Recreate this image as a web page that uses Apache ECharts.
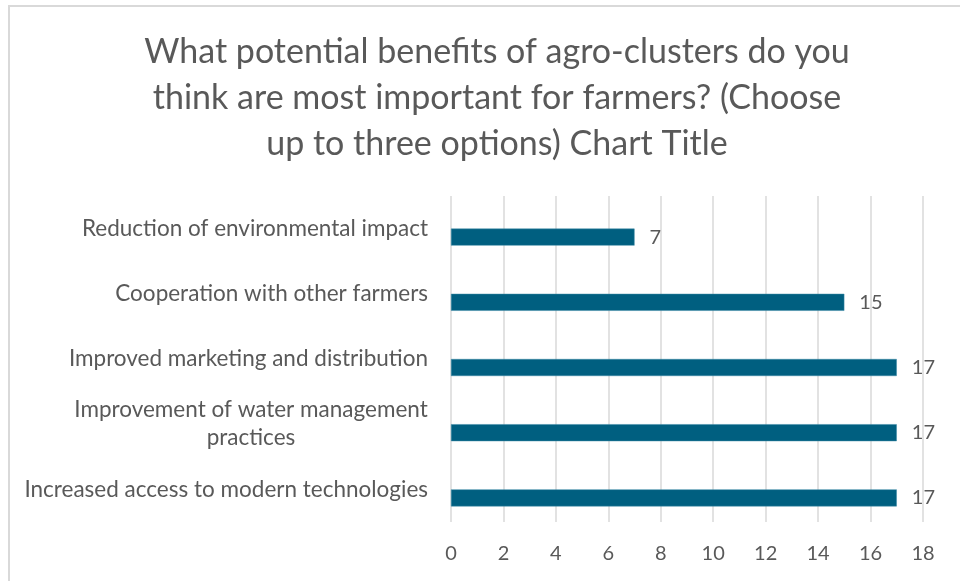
<!DOCTYPE html>
<html>
<head>
<meta charset="utf-8">
<script src="https://cdn.jsdelivr.net/npm/echarts@6/dist/echarts.min.js"></script>
<style>
html,body{margin:0;padding:0;background:#fff;}
#chart{width:960px;height:581px;}
</style>
</head>
<body>
<div id="chart"></div>
<script>
// Data (bottom to top)
var categories = [
  'Increased access to modern technologies',
  'Improvement of water management\npractices',
  'Improved marketing and distribution',
  'Cooperation with other farmers',
  'Reduction of environmental impact'
];
var values = [17, 17, 17, 15, 7];
var xTicks = [0, 2, 4, 6, 8, 10, 12, 14, 16, 18];
var titleText = 'What potential benefits of agro-clusters do you\nthink are most important for farmers? (Choose\nup to three options) Chart Title';

var FONT = 'Lato';
var LABEL_SIZE = 22.5;
var NUM_SIZE = 20;
var TEXT_COLOR = '#595959';

// measure text for centering multi-line category label within its block
var cv = document.createElement('canvas').getContext('2d');
cv.font = LABEL_SIZE + 'px ' + FONT;
function textW(s){ return cv.measureText(s).width; }

var ml = {align: 'center', width: 300, fontFamily: FONT, fontSize: LABEL_SIZE, color: TEXT_COLOR, lineHeight: 28};
categories.forEach(function(c){
  var lines = c.split('\n');
  if (lines.length > 1) ml.width = Math.ceil(Math.max.apply(null, lines.map(textW)));
});

var chart = echarts.init(document.getElementById('chart'), null, {renderer: 'canvas'});
var option = {
  backgroundColor: '#ffffff',
  animation: false,
  graphic: [{
    type: 'rect',
    shape: {x: 9, y: 6, width: 1000, height: 1000},
    style: {fill: 'none', stroke: '#d9d9d9', lineWidth: 2},
    silent: true
  }],
  title: {
    text: titleText,
    left: 492,
    top: 24,
    textAlign: 'center',
    textStyle: {
      fontFamily: FONT,
      fontSize: 34,
      fontWeight: 'normal',
      color: TEXT_COLOR,
      lineHeight: 46
    }
  },
  grid: {left: 451, right: 37, top: 196, bottom: 59, containLabel: false},
  xAxis: {
    type: 'value',
    min: xTicks[0],
    max: xTicks[xTicks.length - 1],
    interval: 2,
    axisLine: {show: false},
    axisTick: {show: false},
    splitLine: {show: true, lineStyle: {color: '#d9d9d9', width: 1.5}},
    axisLabel: {
      color: TEXT_COLOR, fontFamily: FONT, fontSize: NUM_SIZE, margin: 22
    }
  },
  yAxis: {
    type: 'category',
    data: categories,
    axisLine: {show: false},
    axisTick: {show: false},
    axisLabel: {
      color: TEXT_COLOR,
      fontFamily: FONT,
      fontSize: LABEL_SIZE,
      margin: 23,
      lineHeight: 28,
      formatter: function (v) {
        var lines = v.split('\n');
        if (lines.length === 1) return v;
        return lines.map(function (l) { return '{ml|' + l + '}'; }).join('\n');
      },
      rich: {ml: ml}
    }
  },
  series: [
    {
      type: 'bar',
      data: values.map(function(){ return '-'; }),
      barWidth: 17,
      silent: true
    },
    {
      type: 'bar',
      data: values,
      barWidth: 17,
      barGap: '0%',
      itemStyle: {color: '#005F80', borderColor: '#3d8aa6', borderWidth: 0.5},
      label: {
        show: true,
        position: 'right',
        distance: 15,
        color: TEXT_COLOR,
        fontFamily: FONT,
        fontSize: NUM_SIZE
      }
    }
  ]
};
chart.setOption(option);
</script>
</body>
</html>
